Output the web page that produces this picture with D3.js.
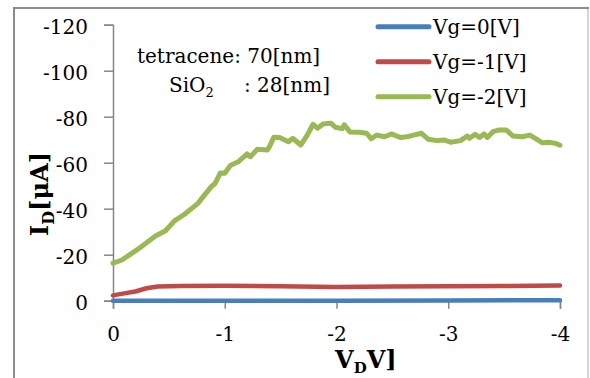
<!DOCTYPE html>
<html lang="en">
<head>
    <meta charset="UTF-8">
    <title>Document</title>
    <script src="https://d3js.org/d3.v7.min.js"></script>
    <style>
        body { margin: 0; background: #fff; }
        text { font-family: "DejaVu Serif", serif; fill: #000; }
    </style>
</head>
<body>
    <svg class="svgs" width="590" height="378"></svg>
    <script>
        // drain voltage / drain current readings, one pair of arrays per gate voltage
        const vdVg2 = [0, -0.08, -0.22, -0.38, -0.47, -0.55, -0.64, -0.76, -0.82, -0.88, -0.91, -0.96, -1.00,
            -1.05, -1.12, -1.20, -1.23, -1.29, -1.38, -1.40, -1.44, -1.49, -1.57, -1.61, -1.68, -1.73, -1.79,
            -1.83, -1.88, -1.95, -1.99, -2.05, -2.07, -2.12, -2.20, -2.27, -2.31, -2.36, -2.43, -2.49, -2.57,
            -2.63, -2.69, -2.76, -2.82, -2.90, -2.96, -3.02, -3.11, -3.17, -3.19, -3.24, -3.28, -3.32, -3.35,
            -3.40, -3.45, -3.52, -3.58, -3.66, -3.73, -3.79, -3.84, -3.90, -3.96, -4.00];
        const idVg2 = [-16.3, -17.7, -22.3, -28.1, -30.4, -34.7, -37.6, -42.3, -46, -49.6, -50.7, -55.5, -55.4,
            -58.8, -60.4, -63.8, -62.6, -65.8, -65.5, -67, -71.1, -71, -69.1, -70.6, -67.7, -71.3, -76.7,
            -75, -76.8, -77.2, -75.4, -74.8, -76.5, -73.3, -73.2, -72.8, -70.4, -72, -71.3, -72.5, -71,
            -71.3, -72, -72.8, -70.2, -69.6, -69.9, -68.9, -69.6, -71.6, -70.6, -72.3, -71, -72.5, -71,
            -73.5, -74.2, -74.2, -71.6, -71.3, -72, -70.2, -68.7, -68.9, -68.4, -67.6];

        const vdVg1 = [0, -0.1, -0.2, -0.3, -0.4, -0.6, -1.0, -1.5, -2.0, -2.5, -3.0, -3.5, -4.0];
        const idVg1 = [-2.3, -3.2, -4.0, -5.4, -6.2, -6.4, -6.5, -6.3, -6.0, -6.2, -6.3, -6.4, -6.6];

        const vdVg0 = [0, -1, -2, -3, -4];
        const idVg0 = [0, 0, 0, -0.1, -0.2];

        const seriesNames = ['Vg=0[V]', 'Vg=-1[V]', 'Vg=-2[V]'];
        const seriesColors = ['#4a7ebb', '#be4b48', '#98b954'];
        const xTicks = [0, -1, -2, -3, -4];
        const yTicks = [0, -20, -40, -60, -80, -100, -120];

        const svg = d3.select('.svgs');
        const axisColor = '#868686';

        // outer chart frame
        svg.append('rect')
            .attr('x', 14).attr('y', 8)
            .attr('width', 574).attr('height', 400)
            .attr('fill', 'none')
            .attr('stroke', '#8c8c8c')
            .attr('stroke-width', 2);
        svg.append('line')
            .attr('x1', 588).attr('x2', 588).attr('y1', 9).attr('y2', 378)
            .attr('stroke', '#d4d4d4').attr('stroke-width', 2);

        const xScale = d3.scaleLinear().domain([0, -4]).range([113, 560]);
        const yScale = d3.scaleLinear().domain([0, -120]).range([300.7, 24.7]);

        const fmt = d => String(d);

        const yAxis = svg.append('g')
            .attr('transform', 'translate(113,0)')
            .call(d3.axisLeft(yScale).tickValues(yTicks).tickFormat(fmt).tickSize(9).tickPadding(16));
        const xAxis = svg.append('g')
            .attr('transform', 'translate(0,300.7)')
            .call(d3.axisBottom(xScale).tickValues(xTicks).tickFormat(fmt).tickSize(8).tickPadding(18));

        [xAxis, yAxis].forEach(ax => {
            ax.select('.domain').attr('stroke', axisColor).attr('stroke-width', 1.5);
            ax.selectAll('.tick line').attr('stroke', axisColor).attr('stroke-width', 1.5);
            ax.selectAll('.tick text')
                .attr('font-family', '"DejaVu Serif", serif')
                .attr('font-size', 20)
                .attr('fill', '#000');
        });
        yAxis.selectAll('.tick text').attr('dy', '0.42em');

        const line = d3.line()
            .x(d => xScale(d[0]))
            .y(d => yScale(d[1]));

        const series = [
            d3.zip(vdVg0, idVg0),
            d3.zip(vdVg1, idVg1),
            d3.zip(vdVg2, idVg2)
        ];

        svg.append('g').selectAll('path')
            .data(series)
            .join('path')
            .attr('d', line)
            .attr('fill', 'none')
            .attr('stroke', (d, i) => seriesColors[i])
            .attr('stroke-width', (d, i) => i === 2 ? 5 : 4.5)
            .attr('stroke-linejoin', 'round')
            .attr('stroke-linecap', 'round');

        // legend
        const legend = svg.append('g');
        seriesNames.forEach((name, i) => {
            const ly = 26.7 + i * 35;
            legend.append('line')
                .attr('x1', 378).attr('x2', 429)
                .attr('y1', ly).attr('y2', ly)
                .attr('stroke', seriesColors[i])
                .attr('stroke-width', 5)
                .attr('stroke-linecap', 'round');
            legend.append('text')
                .attr('x', 433).attr('y', ly + 7.5)
                .attr('font-size', 20)
                .text(name);
        });

        // sample annotation
        svg.append('text')
            .attr('x', 137).attr('y', 63)
            .attr('font-size', 20)
            .text('tetracene: 70[nm]');
        const sio = svg.append('text')
            .attr('x', 169).attr('y', 92)
            .attr('font-size', 20);
        sio.append('tspan').text('SiO');
        sio.append('tspan').attr('font-size', 13).attr('dy', 5).text('2');
        svg.append('text')
            .attr('x', 244).attr('y', 92)
            .attr('font-size', 20)
            .text(': 28[nm]');

        // axis titles
        const yl = svg.append('text')
            .attr('transform', 'translate(48,236) rotate(-90)')
            .attr('font-size', 24)
            .attr('font-weight', 'bold');
        yl.append('tspan').text('I');
        yl.append('tspan').attr('font-size', 16).attr('dy', 6).text('D');
        yl.append('tspan').attr('dy', -6).text('[μA]');

        const xl = svg.append('text')
            .attr('x', 335).attr('y', 368)
            .attr('font-size', 24)
            .attr('font-weight', 'bold');
        xl.append('tspan').text('V');
        xl.append('tspan').attr('font-size', 15).attr('dy', 5).text('D');
        xl.append('tspan').attr('dy', -5).text('V]');
    </script>
</body>
</html>
